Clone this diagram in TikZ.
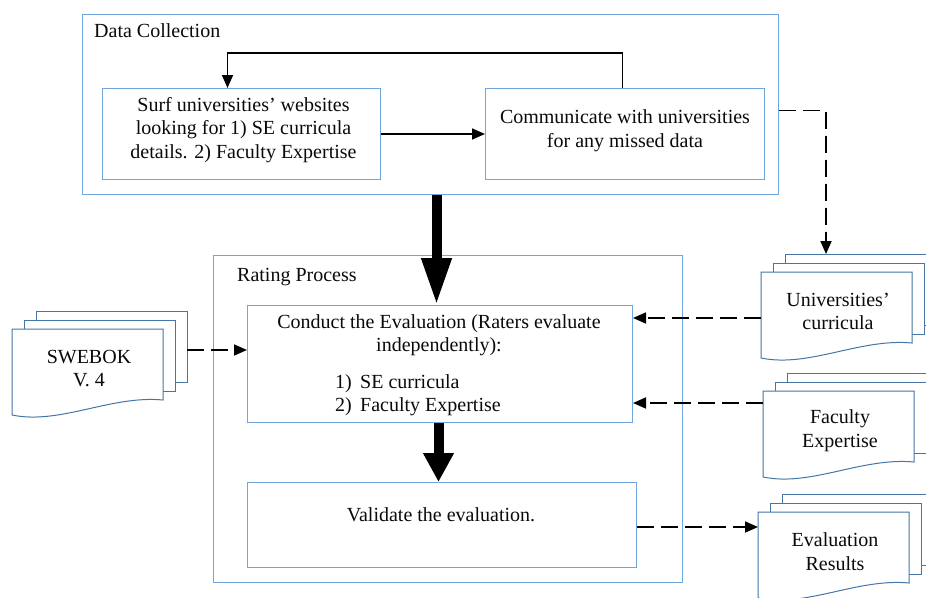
\documentclass[tikz,border=0pt]{standalone}
\usepackage{fontspec}
\setmainfont{Liberation Serif}
\usetikzlibrary{arrows.meta}
\definecolor{boxblue}{RGB}{112,166,222}
\definecolor{docblue}{RGB}{70,118,165}
\definecolor{ink}{RGB}{10,10,10}
\tikzset{
  box/.style={draw=boxblue, line width=1pt, fill=white, rectangle, inner sep=0pt, anchor=north west},
  txt/.style={font=\fontsize{20}{23.5}\selectfont, align=center, inner sep=0pt, text=ink},
  conn/.style={draw=black, line width=1.7pt, -{Triangle[width=11pt,length=13pt]}},
  dconn/.style={conn, dash pattern=on 17pt off 7pt},
  bigA/.style={draw=black, line width=10pt, -{Triangle[width=28pt,length=47pt]}},
  bigB/.style={draw=black, line width=10pt, -{Triangle[width=29pt,length=29pt]}},
  docsheet/.style={draw=docblue, line width=1pt, fill=white},
  pics/mdoc/.style={code={
    \path[docsheet] (24,-18) rectangle (175,53);
    \path[docsheet] (12,-9) rectangle (163,62);
    \path[docsheet] (0,0) -- (151,0) -- (151,71) .. controls (99,66) and (48,96) .. (0,86) -- cycle;
    \coordinate (-tl) at (0,0);
    \coordinate (-b3) at (24,-18);
    \coordinate (-r3) at (175,21);
    \node[txt] (-t) at (77,39.5) {#1};
  }},
}
\begin{document}
\begin{tikzpicture}[x=1pt,y=-1pt]
\useasboundingbox (0,0) rectangle (926,597);
\fill[white] (0,0) rectangle (926,597);

% Data collection
\node[box, minimum width=696pt, minimum height=180pt] (dc) at (82,14) {};
\node[txt, anchor=base west] (dct) at (94,37) {Data Collection};
\node[box, minimum width=278pt, minimum height=91pt] (surf) at (102,88) {};
\node[txt] (surft) at ([xshift=2pt,yshift=4pt]surf.center) {Surf universities' websites\\looking for 1) SE curricula\\details. 2) Faculty Expertise};
\node[box, minimum width=279pt, minimum height=91pt] (comm) at (485,88) {};
\node[txt] (commt) at ([yshift=3.5pt]comm.center) {Communicate with universities\\for any missed data};

% Rating process
\node[box, minimum width=469pt, minimum height=327pt] (rate) at (213,255) {};
\node[txt, anchor=base west] (ratet) at (237,281) {Rating Process};
\node[box, minimum width=385pt, minimum height=117pt] (cond) at (247,305) {};
\node[txt] (condt) at (439,335) {Conduct the Evaluation (Raters evaluate\\independently):};
\node[txt, align=left, anchor=west] (condl) at (335,395.4) {\makebox[25pt][l]{1)}SE curricula\\\makebox[25pt][l]{2)}Faculty Expertise};
\node[box, minimum width=389pt, minimum height=85pt] (val) at (247,482) {};
\node[txt] (valt) at (441,515) {Validate the evaluation.};

% documents
\pic (swe) at (12,329) {mdoc={SWEBOK\\V. 4}};
\pic (univ) at (761,272) {mdoc={Universities'\\curricula}};
\pic (fac) at (763,391) {mdoc={Faculty\\Expertise}};
\pic (eval) at (758,512) {mdoc={Evaluation\\Results}};

% connectors
\draw[conn] (surf.east) -- (comm.west);
\draw[conn] ([xshift=-2.5pt]comm.north) -- ++(0,-35) -| ([xshift=-14pt]surf.north);
\coordinate (d1) at ([yshift=-6pt]dc.east);
\draw[dconn] (d1) -| ([xshift=41pt]univ-b3);
\draw[dconn] (swe-r3) -- (swe-r3 -| cond.west);
\coordinate (u1) at ([yshift=-46pt]univ-tl);
\draw[dconn] (u1) -- (u1 -| cond.east);
\coordinate (f1) at ([yshift=-12pt]fac-tl);
\draw[dconn] (f1) -- (f1 -| cond.east);
\coordinate (e1) at ([yshift=-15pt]eval-tl);
\draw[dconn] (e1 -| val.east) -- (e1);

% big arrows
\coordinate (a1) at ([xshift=-3.5pt]cond.north);
\draw[bigA] (a1 |- dc.south) -- (a1);
\coordinate (a2) at ([xshift=-3.5pt]val.north);
\draw[bigB] (a2 |- cond.south) -- (a2);
\end{tikzpicture}
\end{document}
